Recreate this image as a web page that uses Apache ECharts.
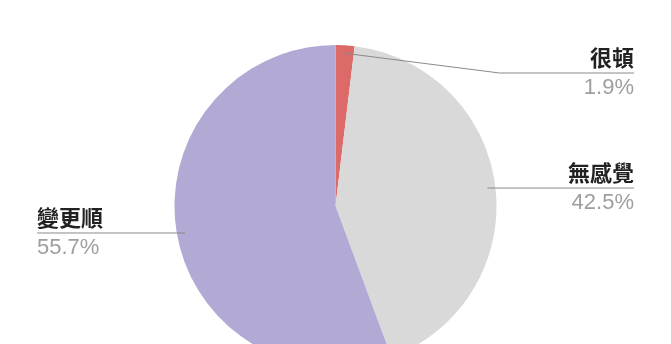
<!DOCTYPE html>
<html>
<head>
<meta charset="utf-8">
<script src="https://cdn.jsdelivr.net/npm/echarts@6/dist/echarts.min.js"></script>
<style>
html,body{margin:0;padding:0;background:#fff;}
#chart{width:671px;height:344px;}
</style>
</head>
<body>
<div id="chart"></div>
<script>
// ---- data ----
const categories = ['很頓', '無感覺', '變更順'];
const values = [1.9, 42.5, 55.7];
const colors = ['#dc6a69', '#d9d9d9', '#b2a9d5'];

// ---- layout / style constants ----
const W = 671, H = 344;
const CX = 335.5, CY = 206, R = 161;
const EDGE = 37;           // label distance from chart edge
const ANCHOR_INSET = 8;    // leader starts a bit inside the slice
const ELBOW_GAP = 3;       // horizontal rule starts just outside the pie
const MIN_LINE_Y = 73;     // labels are kept below the chart top

const total = values.reduce((a, b) => a + b, 0);
function midAngle(i) {
  let before = 0;
  for (let k = 0; k < i; k++) before += values[k];
  return (before + values[i] / 2) / total * Math.PI * 2; // clockwise from top
}

const pieBase = {
  type: 'pie',
  center: [CX, CY],
  radius: [0, R],
  startAngle: 90,
  clockwise: true,
  silent: true,
  emphasis: {disabled: true}
};

const chart = echarts.init(document.getElementById('chart'), null, {renderer: 'canvas'});
chart.setOption({
  animation: false,
  backgroundColor: '#ffffff',
  series: [
    Object.assign({}, pieBase, {
      z: 2,
      itemStyle: {borderWidth: 0},
      label: {show: false},
      labelLine: {show: false},
      data: categories.map((c, i) => ({name: c, value: values[i], itemStyle: {color: colors[i]}}))
    }),
    Object.assign({}, pieBase, {
      z: 5,
      itemStyle: {borderWidth: 0, color: 'rgba(0,0,0,0)'},
      data: categories.map((c, i) => ({name: c, value: values[i]})),
      label: {
        show: true,
        position: 'outside',
        formatter: p => '{n|' + p.name + '}\n{p|' + values[p.dataIndex].toFixed(1) + '%}',
        rich: {
          n: {fontFamily: '"Noto Sans CJK TC", "Noto Sans CJK SC", sans-serif', fontSize: 22, fontWeight: 'bold', color: '#222222', lineHeight: 30},
          p: {fontFamily: '"Liberation Sans", Arial, sans-serif', fontSize: 22, color: '#9e9e9e', lineHeight: 30}
        }
      },
      labelLine: {show: true, length: 5, length2: 5, lineStyle: {color: '#8a8a8a', width: 1}},
      labelLayout: function (params) {
        const i = params.dataIndex;
        const a = midAngle(i);
        const sx = Math.sin(a), sy = -Math.cos(a);
        const right = sx >= 0;
        const ax = CX + (R - ANCHOR_INSET) * sx;
        const ay = CY + (R - ANCHOR_INSET) * sy;
        const lineY = Math.max(ay, MIN_LINE_Y);
        const ex = right ? Math.max(ax, CX + R + ELBOW_GAP) : Math.min(ax, CX - R - ELBOW_GAP);
        const endX = right ? W - EDGE : EDGE;
        return {
          x: endX,
          y: lineY,
          align: right ? 'right' : 'left',
          verticalAlign: 'middle',
          labelLinePoints: [[ax, ay], [ex, lineY], [endX, lineY]]
        };
      }
    })
  ]
});
</script>
</body>
</html>
